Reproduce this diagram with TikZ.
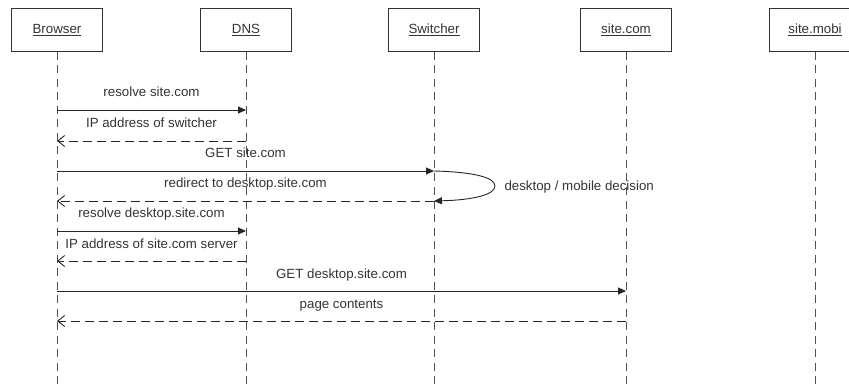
\documentclass[tikz,border=0pt]{standalone}
\usepackage{fontspec}
\setmainfont{Liberation Sans}
\usetikzlibrary{arrows.meta}
\definecolor{inkgray}{HTML}{333333}
\definecolor{lifegray}{HTML}{505050}
\tikzset{
    actor/.style={draw=inkgray, line width=1pt, minimum width=91pt, minimum height=43pt, text=inkgray, font=\fontsize{13.3}{15}\selectfont},
    lifeline/.style={draw=lifegray, line width=0.9pt, dash pattern=on 8pt off 5.5pt},
    call/.style={draw=black!85, line width=0.9pt, -{Triangle[length=8pt,width=7pt]}},
    reply/.style={draw=black!85, line width=0.9pt, dash pattern=on 9pt off 5pt, -{Straight Barb[length=7pt,width=11pt]}},
    msglabel/.style={inner sep=0pt, anchor=base, yshift=13pt, text=inkgray, font=\fontsize{13.3}{15}\selectfont}
}
\begin{document}
\begin{tikzpicture}[x=1pt, y=-1pt]
    \useasboundingbox (0,0) rectangle (849,385);
    \foreach \name/\x/\actortext in {browser/57/Browser, dns/246/DNS, switcher/434/Switcher, sitecom/626/site.com, sitemobi/815/site.mobi}
    {
        \node[actor] (\name) at (\x,30) {\underline{\actortext}};
        \coordinate (\name end) at (\x,390);
        \draw[lifeline] (\name) -- (\name end);
    }
    \foreach \y/\from/\to/\kind/\msgtext in {110/browser/dns/call/resolve site.com, 141/dns/browser/reply/IP address of switcher, 171/browser/switcher/call/GET site.com, 201/switcher/browser/reply/redirect to desktop.site.com, 231/browser/dns/call/resolve desktop.site.com, 261/dns/browser/reply/IP address of site.com server, 291/browser/sitecom/call/GET desktop.site.com, 321/sitecom/browser/reply/page contents}
    {
        \draw[\kind] (\from |- 0,\y) -- node[msglabel] {\msgtext} (\to |- 0,\y);
    }
    \draw[call] (switcher |- 0,171) .. controls (472,172) and (495,177) .. (495,186) coordinate (turn) .. controls (495,195) and (472,200) .. (switcher |- 0,201);
    \node[anchor=west, xshift=6pt, yshift=-1.5pt, text=inkgray, font=\fontsize{13.3}{15}\selectfont] (decision) at (turn) {desktop / mobile decision};
\end{tikzpicture}
\end{document}
